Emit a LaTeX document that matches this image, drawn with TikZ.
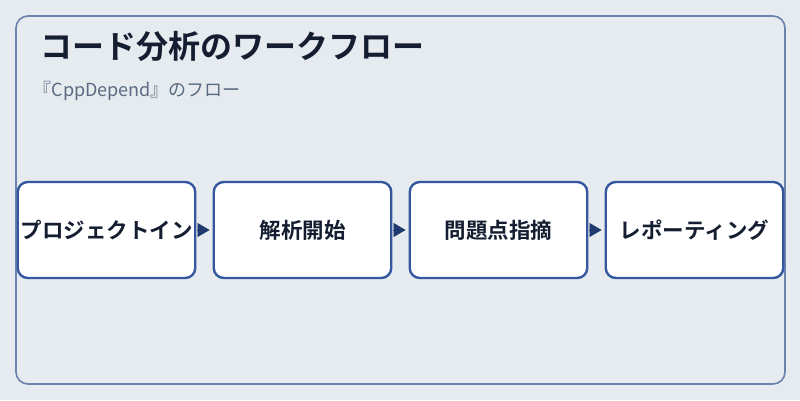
\documentclass[tikz,border=0pt]{standalone}
\usepackage{fontspec}
\setmainfont{Noto Sans CJK JP}
\newfontfamily\jpbold{Noto Sans CJK JP Bold}
\usetikzlibrary{positioning,arrows.meta}
\definecolor{bgcol}{HTML}{E6EBF0}
\definecolor{framecol}{HTML}{6B83AD}
\definecolor{boxcol}{HTML}{3457A0}
\definecolor{tipcol}{HTML}{1E3A6E}
\definecolor{titlecol}{HTML}{141E30}
\definecolor{subcol}{HTML}{5A6A80}
\tikzset{
  stepbox/.style={draw=boxcol, line width=2.4pt, fill=white, rounded corners=10pt,
    minimum width=177.5pt, minimum height=96pt, inner sep=0pt,
    font=\jpbold\fontsize{21.5}{24}\selectfont, text=titlecol},
  flowarrow/.style={draw=tipcol, fill=tipcol, line width=0.5pt,
    -{Triangle[length=12pt,width=14pt]}, shorten <=1pt, shorten >=3pt},
}
\begin{document}
\begin{tikzpicture}[x=1pt, y=-1pt]
    \fill[bgcol] (0,0) rectangle (800,400);
    \useasboundingbox (0,0) rectangle (800,400);
    \draw[framecol, line width=1.6pt, rounded corners=12pt] (16,16) rectangle (785,384);

    \node[anchor=base west, text=titlecol, font=\jpbold\fontsize{32}{35}\selectfont] (title) at (37,58) {コード分析のワークフロー};
    \node[anchor=base west, text=subcol, font=\fontsize{18}{21}\selectfont] (subtitle) at (30,96) {『CppDepend』のフロー};

    \node[stepbox] (import) at (106.5,230) {プロジェクトイン};
    \node[stepbox, right=16.1pt of import] (analysis) {解析開始};
    \node[stepbox, right=16.1pt of analysis] (issues) {問題点指摘};
    \node[stepbox, right=16.1pt of issues] (report) {レポーティング};

    \foreach \a/\b in {import/analysis, analysis/issues, issues/report} {
      \draw[flowarrow] (\a.east) -- (\b.west);
    }
  \end{tikzpicture}
\end{document}
